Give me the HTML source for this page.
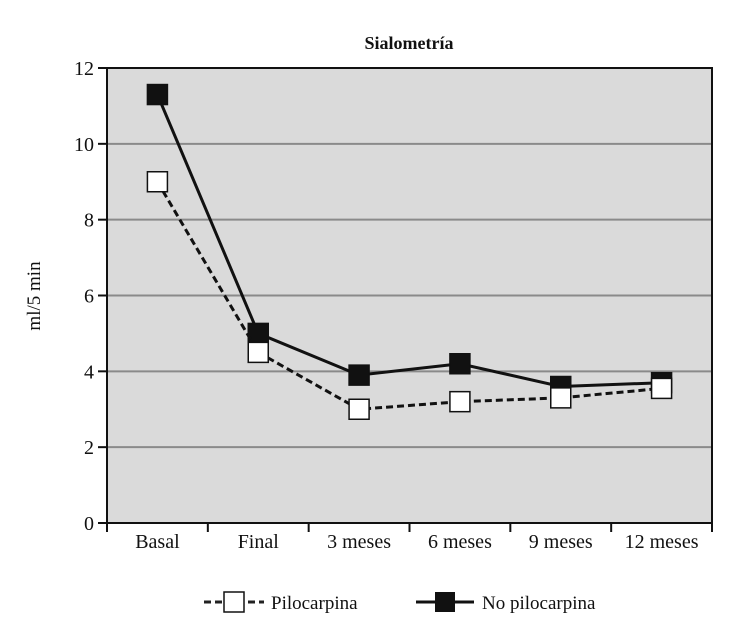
<!DOCTYPE html>
<html><head><meta charset="utf-8"><style>
body{margin:0;background:#fff;}
svg text{font-family:"Liberation Serif",serif;fill:#111;}
</style></head><body>
<svg id="chart" width="730" height="638" xmlns="http://www.w3.org/2000/svg">
<text x="409" y="49" text-anchor="middle" font-size="18" font-weight="bold">Sialometría</text>
<text transform="translate(40,296) rotate(-90)" text-anchor="middle" font-size="19">ml/5 min</text>
<rect x="107" y="68" width="605" height="455" fill="#dadada"/>
<g id="grid"></g><g id="axes"></g><g id="series"></g>
<g>
<g>
<line x1="204" y1="602" x2="264" y2="602" stroke="#222" stroke-width="3" stroke-dasharray="7,4"/>
<rect x="224" y="592" width="20" height="20" fill="#fff" stroke="#111" stroke-width="1.5"/>
<text x="271" y="609" font-size="19">Pilocarpina</text></g>
<g>
<line x1="416" y1="602" x2="474" y2="602" stroke="#111" stroke-width="3"/>
<rect x="435" y="592" width="20" height="20" fill="#111"/>
<text x="482" y="609" font-size="19">No pilocarpina</text></g>
</g>
</svg>
<script>
const categories=["Basal","Final","3 meses","6 meses","9 meses","12 meses"];
const pilocarpina=[9.0,4.5,3.0,3.2,3.3,3.55];
const noPilocarpina=[11.3,5.0,3.9,4.2,3.6,3.7];
const yTicks=[0,2,4,6,8,10,12];
const NS="http://www.w3.org/2000/svg";
const L=107,R=712,T=68,B=523,yMax=12;
const bw=(R-L)/categories.length;
const x=i=>L+bw*(i+0.5);
const y=v=>B-(v/yMax)*(B-T);
function mk(tag,attrs,parent){const e=document.createElementNS(NS,tag);for(const k in attrs)e.setAttribute(k,attrs[k]);parent.appendChild(e);return e;}
const grid=document.getElementById('grid'),axes=document.getElementById('axes'),series=document.getElementById('series');
yTicks.forEach(t=>{
 if(t>0&&t<yMax){const g=mk('line',{x1:L,x2:R,y1:y(t),y2:y(t),stroke:'#8a8a8a','stroke-width':2},grid);
 
 }
 const tk=mk('line',{x1:L-9,x2:L,y1:y(t),y2:y(t),stroke:'#111','stroke-width':2},axes);
 
 
 const tx=mk('text',{x:L-13,y:y(t)+7,'text-anchor':'end','font-size':20},axes);tx.textContent=t;
 
 
});
const frame=mk('rect',{x:L,y:T,width:R-L,height:B-T,fill:'none',stroke:'#111','stroke-width':2},axes);


for(let i=0;i<=categories.length;i++){const t=mk('line',{x1:L+bw*i,x2:L+bw*i,y1:B,y2:B+9,stroke:'#111','stroke-width':2},axes);
 
 }
categories.forEach((c,i)=>{const t=mk('text',{x:x(i),y:B+25,'text-anchor':'middle','font-size':20},axes);t.textContent=c;
 
 });
function draw(vals,name,fill,dash){
 const pts=vals.map((v,i)=>x(i)+','+y(v)).join(' ');
 const l=mk('polyline',{points:pts,fill:'none',stroke:'#111','stroke-width':3},series);
 if(dash)l.setAttribute('stroke-dasharray','7,4');
 
 
 vals.forEach((v,i)=>{const r=mk('rect',{x:x(i)-10,y:y(v)-10,width:20,height:20,fill:fill,stroke:'#111','stroke-width':1.5},series);
  
  });
}
draw(noPilocarpina,'no-pilocarpina','#111',false);
draw(pilocarpina,'pilocarpina','#fff',true);
</script>
</body></html>
